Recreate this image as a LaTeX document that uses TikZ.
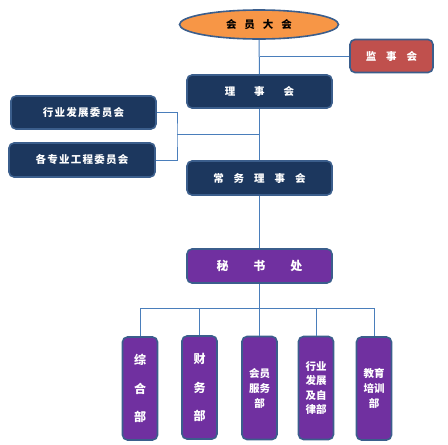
\documentclass[tikz,border=0pt]{standalone}
\usepackage{fontspec}
\newfontfamily\cjk{Noto Sans CJK SC}
\newfontfamily\cjkw{Noto Sans CJK SC}[LetterSpace=12]
\usetikzlibrary{shapes.geometric}
\definecolor{navyc}{HTML}{1C375E}
\definecolor{bordc}{HTML}{3B5E8C}
\definecolor{linec}{HTML}{4A7EBB}
\definecolor{purpc}{HTML}{7030A0}
\definecolor{redc}{HTML}{C0504D}
\definecolor{orangec}{HTML}{F79646}
\tikzset{
  box/.style={draw=bordc, line width=1.6pt, rounded corners=5pt, text=white, inner sep=0pt,
    font=\cjk\bfseries\fontsize{10.5}{12}\selectfont},
  navybox/.style={box, fill=navyc, minimum width=145pt, minimum height=33pt},
  combox/.style={box, fill=navyc, minimum width=145pt, minimum height=33pt,
    font=\cjkw\bfseries\fontsize{10.5}{12}\selectfont},
  deptbox/.style={box, fill=purpc, minimum width=35pt, minimum height=103pt, align=center},
  conn/.style={draw=linec, line width=1pt}
}
\begin{document}
\begin{tikzpicture}[x=1pt,y=-1pt]
\path[use as bounding box] (0,0) rectangle (448,445);
% nodes
\node[ellipse, draw=bordc, line width=1.6pt, fill=orangec, minimum width=159pt, minimum height=29pt,
  inner sep=0pt, font=\cjk\bfseries\fontsize{10.5}{12}\selectfont, text=black] (gm) at (259,24.5)
  {会\hspace{8pt}员\hspace{8pt}大\hspace{8pt}会};
\node[box, fill=redc, minimum width=83pt, minimum height=33pt] (jsh) at (391.5,56) {监\hspace{10pt}事\hspace{10pt}会};
\node[navybox] (lsh) at (259.5,91.5) {理\hspace{19pt}事\hspace{19pt}会};
\node[combox] (c1) at (83.5,112.5) {行业发展委员会};
\node[combox, minimum width=146pt, minimum height=34pt] (c2) at (82,160) {各专业工程委员会};
\node[navybox, minimum height=34pt] (cw) at (259.5,178) {常\hspace{10pt}务\hspace{10pt}理\hspace{10pt}事\hspace{10pt}会};
\node[navybox, fill=purpc, minimum height=34pt, font=\cjk\bfseries\fontsize{12}{14}\selectfont] (msc) at (259.5,266) {秘\hspace{25pt}书\hspace{25pt}处};
\node[deptbox, font=\cjk\bfseries\fontsize{12}{28.5}\selectfont] (d1) at (140,388.5) {综\\合\\部};
\node[deptbox, font=\cjk\bfseries\fontsize{12}{28.5}\selectfont] (d2) at (199.5,387.5) {财\\务\\部};
\node[deptbox, font=\cjk\bfseries\fontsize{10.5}{15}\selectfont] (d3) at (259.5,388) {会员\\服务\\部};
\node[deptbox, font=\cjk\bfseries\fontsize{10.5}{14.5}\selectfont] (d4) at (316,388) {行业\\发展\\及自\\律部};
\node[deptbox, font=\cjk\bfseries\fontsize{10.5}{15}\selectfont] (d5) at (374,388.5) {教育\\培训\\部};
% junctions
\coordinate (j1) at (259.5,56);
\coordinate (br) at (177,134);
\coordinate (bus) at (259.5,308);
% connectors
\draw[conn] (gm.south) -- (lsh.north);
\draw[conn] (j1) -- (jsh.west);
\draw[conn] (lsh.south) -- (cw.north);
\draw[conn] (c1.east) -| (br) |- (c2.east);
\draw[conn] (br) -- (br -| lsh.south);
\draw[conn] (cw.south) -- (msc.north);
\draw[conn] (msc.south) -- (bus);
\draw[conn] (d1.north |- bus) -- (d5.north |- bus);
\foreach \d in {d1,d2,d3,d4,d5} { \draw[conn] (\d.north |- bus) -- (\d.north); }
\end{tikzpicture}
\end{document}
